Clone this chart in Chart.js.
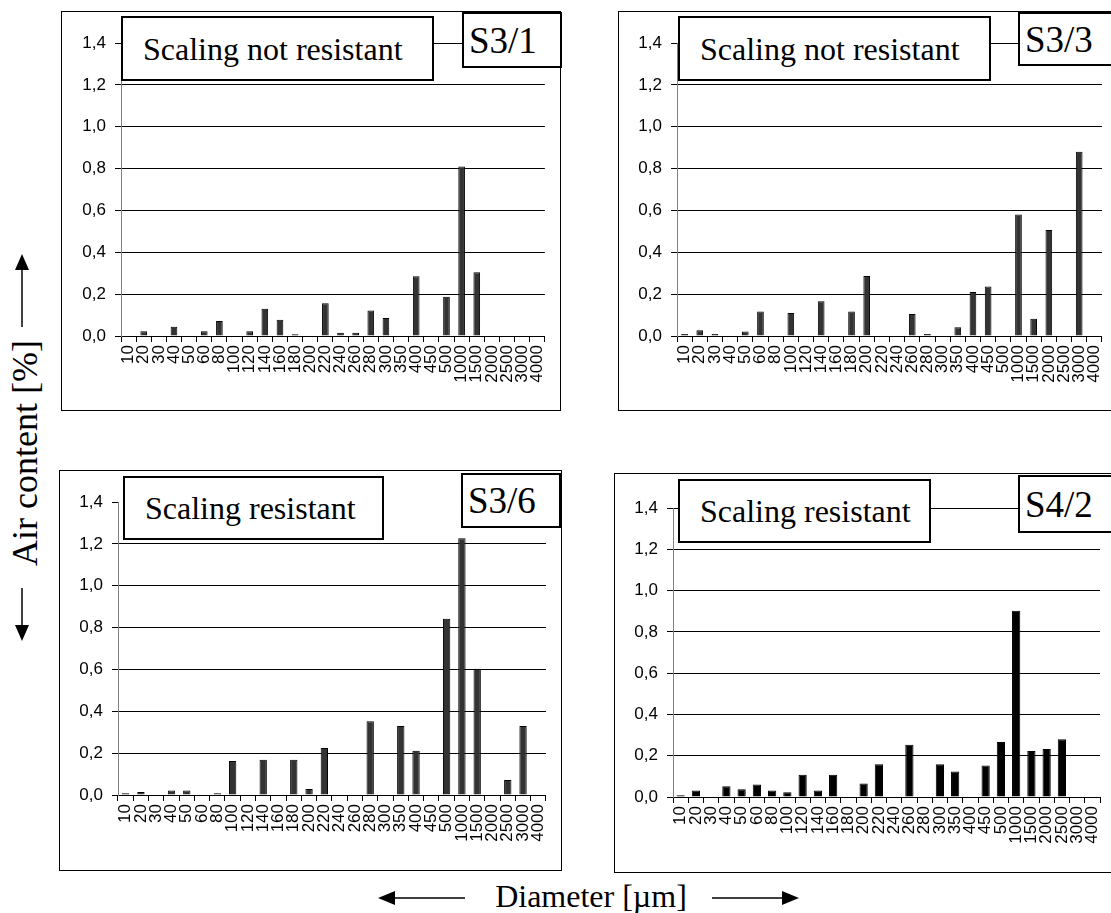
<!DOCTYPE html>
<html lang="en">
<head>
<meta charset="UTF-8">
<title>Air content vs diameter</title>
<script src="https://cdn.jsdelivr.net/npm/chart.js"></script>
<style>
  body { margin: 0; width: 1111px; height: 913px; overflow: hidden; background: #fff; position: relative; }
  .panel { position: absolute; border: 1px solid #000; box-sizing: border-box; }
  canvas { position: absolute; }
  .box { position: absolute; box-sizing: border-box; border: 2px solid #000; background: #fff;
         font-family: 'Liberation Serif', 'Times New Roman', serif; font-size: 32px; line-height: 1;
         display: flex; align-items: center; z-index: 2; }
  .box.lab { padding-left: 20px; }
  .box.tag { padding-left: 5px; font-size: 37px; }
  .title { position: absolute; font-family: 'Liberation Serif', 'Times New Roman', serif; font-size: 32px;
           line-height: 40px; text-align: center; white-space: nowrap; }
  svg { position: absolute; left: 0; top: 0; }
</style>
</head>
<body>

<script>
// diameter classes [µm]
const diameters = ['10','20','30','40','50','60','80','100','120','140','160','180','200','220','240',
                   '260','280','300','350','400','450','500','1000','1500','2000','2500','3000','4000'];

// air content [%] per class
const s31 = [null, 0.023, null, 0.044, null, 0.023, 0.072, null, 0.023, 0.13, 0.078, 0.008, null, 0.157,
             0.015, 0.015, 0.122, 0.086, null, 0.285, null, 0.187, 0.81, 0.305, null, null, null, null];
const s33 = [0.009, 0.028, 0.009, null, 0.022, 0.117, null, 0.11, null, 0.166, null, 0.117, 0.287, null,
             null, 0.105, 0.009, null, 0.042, 0.21, 0.237, null, 0.58, 0.083, 0.506, null, 0.88, null];
const s36 = [0.008, 0.014, null, 0.022, 0.022, null, 0.008, 0.162, null, 0.169, null, 0.169, 0.029, 0.224,
             null, null, 0.352, null, 0.33, 0.212, null, 0.842, 1.227, 0.603, null, 0.072, 0.33, null];
const s42 = [0.008, 0.031, null, 0.052, 0.037, 0.06, 0.031, 0.023, 0.108, 0.031, 0.108, null, 0.066, 0.159,
             null, 0.253, null, 0.159, 0.123, null, 0.152, 0.266, 0.902, 0.223, 0.232, 0.28, null, null];

// y axis tick labels (decimal comma)
const yTickLabels = ['0,0','0,2','0,4','0,6','0,8','1,0','1,2','1,4'];

// panel frame and plot area, page coordinates
const panels = [
  { id: 'c1', data: s31, x: 61,  y: 11,  w: 500, h: 400, pl: 121, pr: 545,  pt: 43,  pb: 336, fill: '#333', bar: 0.44, topLine: true,
    lab: 'Scaling not resistant', labBox: [121, 16, 313, 65], tag: 'S3/1', tagBox: [462, 12, 100, 56] },
  { id: 'c2', data: s33, x: 618, y: 11,  w: 500, h: 400, pl: 677, pr: 1105, pt: 43,  pb: 336, fill: '#333', bar: 0.44, topLine: true,
    lab: 'Scaling not resistant', labBox: [678, 16, 313, 65], tag: 'S3/3', tagBox: [1018, 12, 110, 54] },
  { id: 'c3', data: s36, x: 59,  y: 470, w: 503, h: 401, pl: 118, pr: 547,  pt: 502, pb: 795, fill: '#333', bar: 0.48, topLine: false,
    lab: 'Scaling resistant', labBox: [123, 476, 261, 64], tag: 'S3/6', tagBox: [461, 473, 100, 55] },
  { id: 'c4', data: s42, x: 614, y: 473, w: 502, h: 400, pl: 673, pr: 1105, pt: 508, pb: 797, fill: '#000', bar: 0.54, topLine: true,
    lab: 'Scaling resistant', labBox: [678, 479, 253, 64], tag: 'S4/2', tagBox: [1018, 475, 110, 58] }
];

function place(el, x, y, w, h) {
  el.style.left = x + 'px'; el.style.top = y + 'px';
  el.style.width = w + 'px'; el.style.height = h + 'px';
}

panels.forEach(function (p) {
  const frame = document.createElement('div');
  frame.className = 'panel';
  place(frame, p.x, p.y, p.w, p.h);
  document.body.appendChild(frame);

  const cv = document.createElement('canvas');
  cv.id = p.id;
  cv.width = p.w; cv.height = p.h;
  place(cv, p.x, p.y, p.w, p.h);
  document.body.appendChild(cv);

  const lab = document.createElement('div');
  lab.className = 'box lab';
  lab.textContent = p.lab;
  place(lab, p.labBox[0], p.labBox[1], p.labBox[2], p.labBox[3]);
  document.body.appendChild(lab);

  const tag = document.createElement('div');
  tag.className = 'box tag';
  tag.textContent = p.tag;
  place(tag, p.tagBox[0], p.tagBox[1], p.tagBox[2], p.tagBox[3]);
  document.body.appendChild(tag);

  const yW = p.pl - p.x;
  const xH = p.y + p.h - p.pb;

  new Chart(cv.getContext('2d'), {
    type: 'bar',
    data: {
      labels: diameters,
      datasets: [{
        data: p.data,
        backgroundColor: p.fill,
        borderColor: '#000',
        borderWidth: 1,
        barPercentage: p.bar,
        categoryPercentage: 1
      }]
    },
    options: {
      responsive: false,
      animation: false,
      layout: { padding: { left: 0, right: p.x + p.w - p.pr, top: p.pt - p.y, bottom: 0 } },
      plugins: { legend: { display: false }, tooltip: { enabled: false } },
      scales: {
        x: {
          afterFit: function (s) { s.height = xH; },
          grid: { display: true, drawOnChartArea: false, drawTicks: true, tickLength: 6, offset: true, color: '#000' },
          border: { display: true, color: '#000' },
          ticks: {
            autoSkip: false, maxRotation: 90, minRotation: 90, padding: 3, color: '#000',
            font: { family: "'Liberation Sans', Arial, sans-serif", size: 17 }
          }
        },
        y: {
          min: 0, max: 1.4,
          afterFit: function (s) { s.width = yW; },
          grid: {
            color: function (c) {
              if (!p.topLine && c.tick && Math.abs(c.tick.value - 1.4) < 1e-6) return 'rgba(0,0,0,0)';
              return '#000';
            },
            tickColor: '#000', tickLength: 6
          },
          border: { display: true, color: '#808080' },
          ticks: {
            stepSize: 0.2, padding: 9, color: '#000',
            font: { family: "'Liberation Sans', Arial, sans-serif", size: 17 },
            callback: function (v, i) { return yTickLabels[i]; }
          }
        }
      }
    }
  });
});
</script>

<div class="title" style="left:-125px; top:433px; width:300px; font-size:36px; transform:rotate(-90deg);">Air content [%]</div>
<div class="title" style="left:441px; top:876px; width:300px;">Diameter [µm]</div>

<svg width="1111" height="913">
  <line x1="22" y1="268" x2="22" y2="327" stroke="#000" stroke-width="1.5"/>
  <polygon points="22,254 15,270 29,270" fill="#000"/>
  <line x1="22" y1="588" x2="22" y2="626" stroke="#000" stroke-width="1.5"/>
  <polygon points="22,641 15,625 29,625" fill="#000"/>
  <line x1="394" y1="898" x2="465" y2="898" stroke="#000" stroke-width="1.5"/>
  <polygon points="378,898 395,891 395,905" fill="#000"/>
  <line x1="712" y1="898" x2="783" y2="898" stroke="#000" stroke-width="1.5"/>
  <polygon points="799,898 782,891 782,905" fill="#000"/>
</svg>

</body>
</html>
